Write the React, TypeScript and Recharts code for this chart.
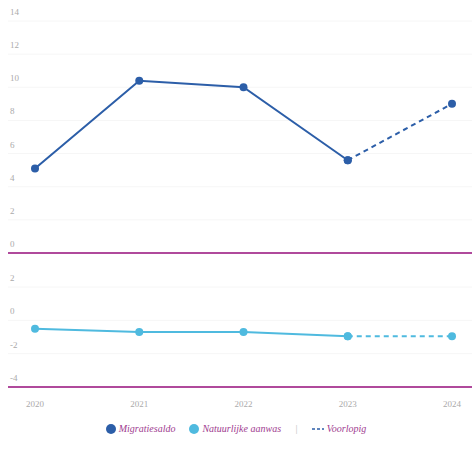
import { LineChart, Line, XAxis, YAxis, CartesianGrid, ReferenceLine } from 'recharts'

const years = ['2020', '2021', '2022', '2023', '2024']
const migratiesaldo = [5.1, 10.4, 10.0, 5.6, 9.0]
const natuurlijkeAanwas = [-0.5, -0.7, -0.7, -0.95, -0.95]
const topTicks = [0, 2, 4, 6, 8, 10, 12, 14]
const bottomTicks = [-4, -2, 0, 2]
// last year is provisional (voorlopig)
const provisionalFrom = 3

const darkBlue = '#2c5ea8'
const lightBlue = '#4fbadf'
const magenta = '#b04a9c'
const font = '"Liberation Serif", serif'

const rows = years.map((year, i) => ({
  year,
  migSolid: i <= provisionalFrom ? migratiesaldo[i] : null,
  migDash: i >= provisionalFrom ? migratiesaldo[i] : null,
  natSolid: i <= provisionalFrom ? natuurlijkeAanwas[i] : null,
  natDash: i >= provisionalFrom ? natuurlijkeAanwas[i] : null,
}))

const YTick = (props: any) => {
  const { y, payload } = props
  return (
    <text x={10} y={y - 6} fontSize={9} fill='#aaa' fontFamily={font}>
      {payload.value}
    </text>
  )
}

const Legend = () => (
  <div
    style={{
      display: 'flex',
      alignItems: 'center',
      justifyContent: 'center',
      gap: 8,
      fontFamily: font,
      fontStyle: 'italic',
      fontSize: 10,
      color: '#a03c90',
      marginTop: 6,
    }}
  >
    <span style={{ display: 'flex', alignItems: 'center', gap: 3 }}>
      <svg width={10} height={10}><circle cx={5} cy={5} r={5} fill={darkBlue} /></svg>
      Migratiesaldo
    </span>
    <span style={{ display: 'flex', alignItems: 'center', gap: 3, marginLeft: 6 }}>
      <svg width={10} height={10}><circle cx={5} cy={5} r={5} fill={lightBlue} /></svg>
      Natuurlijke aanwas
    </span>
    <span style={{ color: '#bbb', margin: '0 6px' }}>|</span>
    <span style={{ display: 'flex', alignItems: 'center', gap: 3 }}>
      <svg width={12} height={6}><line x1={0} y1={3} x2={12} y2={3} stroke={darkBlue} strokeWidth={1.5} strokeDasharray='3 2' /></svg>
      Voorlopig
    </span>
  </div>
)

export default function App() {
  return (
    <div style={{ position: 'absolute', left: 0, top: 0, width: 472, height: 449, background: '#fff' }}>
      <LineChart width={472} height={255} data={rows} margin={{ top: 21, right: 0, bottom: 2, left: 0 }}>
        <CartesianGrid vertical={false} stroke='#f6f6f6' />
        <XAxis dataKey='year' hide padding={{ left: 27, right: 20 }} />
        <YAxis width={8} domain={[0, 14]} ticks={topTicks} interval={0} axisLine={false} tickLine={false} tick={<YTick />} />
        <ReferenceLine y={0} stroke={magenta} strokeWidth={2} />
        <Line dataKey='migSolid' stroke={darkBlue} strokeWidth={2} dot={{ r: 4, fill: darkBlue, strokeWidth: 0 }} isAnimationActive={false} />
        <Line dataKey='migDash' stroke={darkBlue} strokeWidth={2} strokeDasharray='5 4' dot={{ r: 4, fill: darkBlue, strokeWidth: 0 }} isAnimationActive={false} />
      </LineChart>
      <LineChart width={472} height={162} data={rows} margin={{ top: 32, right: 0, bottom: 0, left: 0 }}>
        <CartesianGrid vertical={false} stroke='#f6f6f6' />
        <XAxis
          dataKey='year'
          padding={{ left: 27, right: 20 }}
          axisLine={false}
          tickLine={false}
          height={30}
          interval={0}
          tick={{ fontSize: 9, fill: '#aaa', fontFamily: font }}
          tickMargin={8}
        />
        <YAxis width={8} domain={[-4, 2]} ticks={bottomTicks} interval={0} axisLine={false} tickLine={false} tick={<YTick />} />
        <ReferenceLine y={-4} stroke={magenta} strokeWidth={2} />
        <Line dataKey='natSolid' stroke={lightBlue} strokeWidth={2} dot={{ r: 4, fill: lightBlue, strokeWidth: 0 }} isAnimationActive={false} />
        <Line dataKey='natDash' stroke={lightBlue} strokeWidth={2} strokeDasharray='5 4' dot={{ r: 4, fill: lightBlue, strokeWidth: 0 }} isAnimationActive={false} />
      </LineChart>
      <Legend />
    </div>
  )
}
